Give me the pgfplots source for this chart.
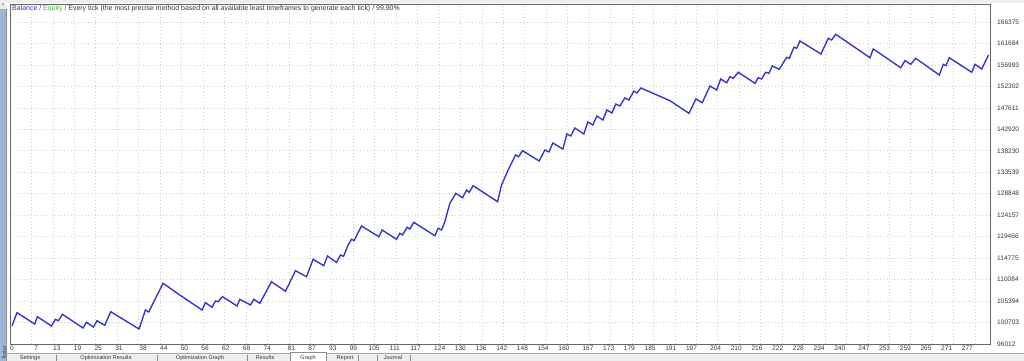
\documentclass[border=0pt]{standalone}
\usepackage{pgfplots}
\pgfplotsset{compat=1.18}
\usepackage{pgfplotstable}
\usepackage{fontspec}
\setmainfont{Liberation Sans}
\definecolor{bal}{RGB}{50,50,208}
\definecolor{eq}{RGB}{60,190,60}
\definecolor{txt}{RGB}{55,55,55}
\definecolor{bgg}{RGB}{238,238,238}
\definecolor{strip}{RGB}{160,182,212}
\definecolor{gridc}{RGB}{208,208,208}

\pgfplotstableread{
x y
0 100000
1.45 102851
6.58 100382
7.37 101977
11.43 99945
12.59 101409
13.46 101103
14.62 102501
20.59 99508
21.58 100753
23.61 99727
24.65 101103
26.89 100098
28.63 103070
36.83 99290
38.69 103441
39.65 103004
43.79 109275
48.64 106719
55.10 103441
56.09 105036
58.00 104031
58.99 105408
59.74 105255
61.02 106347
65.26 104315
66.04 105779
69.14 104534
70.10 105779
71.84 104905
75.23 109625
79.29 107527
82.19 112028
85.38 110717
87.30 114519
90.40 113121
91.47 115240
94.08 113820
95.24 115459
96.14 115174
97.45 117644
98.43 118889
99.19 118583
101.33 121795
106.35 119457
107.31 120921
111.48 118889
112.44 120200
113.23 119840
114.56 121511
115.35 121140
116.50 122603
122.60 119676
123.55 121292
124.54 120921
125.49 122734
126.94 126755
128.68 128940
130.63 127979
131.79 129661
132.54 129159
133.70 130601
140.78 127105
141.94 130754
144.06 134402
146.00 137309
146.87 136937
148.03 138248
152.84 136000
154.50 138401
155.65 137964
156.81 139931
159.71 138620
160.87 141897
162.03 141460
163.19 143208
165.80 141897
166.96 144519
168.41 143864
169.57 145830
171.31 144956
172.47 147141
173.92 146486
175.08 148452
176.24 148015
177.69 149763
178.85 149326
180.30 151293
181.17 150856
182.33 151948
190.75 149172
196.26 146420
198.29 149545
200.12 148736
202.35 152385
204.30 151511
205.46 153915
207.20 153106
208.15 154417
209.11 154068
210.56 155378
215.40 152975
216.36 154199
217.35 153915
218.50 155378
219.46 155160
220.42 156755
222.45 156034
224.60 158656
225.35 158437
226.71 160841
227.50 160622
228.45 162218
234.54 159377
236.66 162807
237.64 162436
238.81 163681
248.75 158569
249.71 160470
257.66 156384
258.90 157913
260.56 157127
262.01 158437
268.85 154789
270.01 157127
270.79 156822
271.75 158569
278.25 155378
279.21 157127
281.15 156100
283.12 159159
}\balance

\begin{document}
\begin{tikzpicture}
\useasboundingbox (0bp,0bp) rectangle (1024bp,361bp);
\begin{scope}[x=1bp,y=1bp]
\clip (0,0) rectangle (1024,361);
\fill[bgg] (0,0) rectangle (1024,361);
\fill[white] (7,8) rectangle (1024,358);
\fill[strip] (0,0) rectangle (6,352);
\draw[black!45,line width=0.4] (6,0) -- (6,352);
\node[font=\fontsize{5}{5}\selectfont,text=black!70,inner sep=0pt] at (3,356) {×};
\node[rotate=90,anchor=west,font=\fontsize{5}{6}\selectfont,text=txt,inner sep=0pt] at (4.2,1) {Tester};
% bottom tab band
\draw[black!35,line width=0.4] (7,8) -- (1024,8);
\fill[white] (290,0) rectangle (326,8.5);
\draw[black!45,line width=0.4] (290,0) -- (290,8.5) -- (326,8.5) -- (326,0);
\foreach \sx in {56,157,247,358,377,410}{\draw[black!45,line width=0.4] (\sx,0) -- (\sx,6);}
\foreach \tx/\tl in {30/Settings,106/Optimization Results,200/Optimization Graph,265/Results,308/Graph,345/Report,393/Journal}{
  \node[anchor=base,font=\fontsize{5.6}{6}\selectfont,text=txt,inner sep=0pt] at (\tx,2) {\tl};}
\end{scope}
\begin{axis}[
  at={(10bp,17bp)}, anchor=south west,
  scale only axis, width=980bp, height=340bp,
  xmin=-0.58, xmax=283.55, ymin=96012, ymax=170302,
  axis line style={draw=black!60,line width=0.7bp},
  major tick length=0pt,
  xtick={5.638,11.856,...,279.5}, xticklabels={},
  extra x ticks={0,7,13,19,25,31,38,44,50,56,62,68,74,81,87,93,99,105,111,117,124,130,136,142,148,154,160,167,173,179,185,191,197,204,210,216,222,228,234,240,247,253,259,265,271,277},
  extra x tick labels={0,7,13,19,25,31,38,44,50,56,62,68,74,81,87,93,99,105,111,117,124,130,136,142,148,154,160,167,173,179,185,191,197,204,210,216,222,228,234,240,247,253,259,265,271,277},
  extra x tick style={grid=none},
  xticklabel style={font=\fontsize{6.6}{7}\selectfont,text=txt,anchor=north,inner sep=0pt,yshift=-2bp},
  ytick={96012,100703,105394,110084,114775,119466,124157,128848,133539,138230,142920,147611,152302,156993,161684,166375},
  yticklabels={96012,100703,105394,110084,114775,119466,124157,128848,133539,138230,142920,147611,152302,156993,161684,166375},
  yticklabel pos=right,
  yticklabel style={font=\fontsize{6.6}{7}\selectfont,text=txt,anchor=west,inner sep=0pt,xshift=7bp},
  xmajorgrids, ymajorgrids,
  grid style={gridc,line width=0.6bp,dash pattern=on 1bp off 2.4bp},
]
\addplot[bal,line width=1.35bp] table[x=x,y=y]{\balance};
\end{axis}
\node[anchor=west,inner sep=0pt,font=\fontsize{7}{8}\selectfont,text=txt] at (12bp,352bp) {\textcolor{bal}{Balance} / \textcolor{eq}{Equity} / Every tick (the most precise method based on all available least timeframes to generate each tick) / 99.90\%};
\end{tikzpicture}
\end{document}
